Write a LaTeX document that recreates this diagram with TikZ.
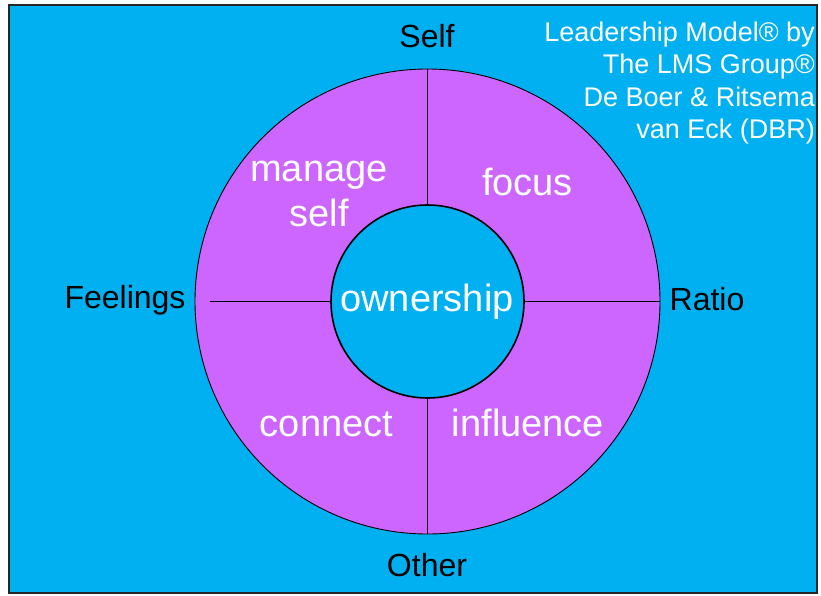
\documentclass[tikz,border=0pt]{standalone}
\usepackage{fontspec}
\setmainfont{Liberation Sans}
\definecolor{bgblue}{HTML}{00B0F0}
\definecolor{ringpurple}{HTML}{CC66FF}
\begin{document}
\begin{tikzpicture}[x=1pt,y=-1pt,
  bigtxt/.style={text=white,font=\fontsize{38}{45}\selectfont,align=center,anchor=base,inner sep=0pt},
  axistxt/.style={text=black,font=\fontsize{32}{38}\selectfont,anchor=base,inner sep=0pt},
  notetxt/.style={text=white,font=\fontsize{27}{32.2}\selectfont,anchor=base east,inner sep=0pt},
  divider/.style={draw=black,line width=0.9pt}]
\useasboundingbox (0,0) rectangle (821,596);
\draw[fill=bgblue,draw=black!85,line width=2pt] (9,5) rectangle (817,593);
\node[circle,draw=black,line width=0.9pt,fill=ringpurple,minimum size=465pt,inner sep=0pt] (outer) at (427.5,301.5) {};
\node[circle,draw=black,line width=1.6pt,fill=bgblue,minimum size=193pt,inner sep=0pt] (inner) at (427.5,301.5) {};
\coordinate (leftend) at (210,301.5);
\draw[divider] (outer.north) -- (inner.north);
\draw[divider] (inner.south) -- (outer.south);
\draw[divider] (leftend) -- (inner.west);
\draw[divider] (inner.east) -- (outer.east);
\node[bigtxt] (own) at (427,311.5) {ownership};
\node[bigtxt] (manage) at (319,181.5) {manage};
\node[bigtxt] (mself) at (319,226.5) {self};
\node[bigtxt] (focus) at (527.5,195) {focus};
\node[bigtxt] (connect) at (326.5,436) {connect};
\node[bigtxt] (influence) at (528,436) {influence};
\node[axistxt] (self) at (427,47.5) {Self};
\node[axistxt] (feel) at (125,308) {Feelings};
\node[axistxt] (ratio) at (707,310.5) {Ratio};
\node[axistxt] (other) at (427,576.5) {Other};
\node[notetxt] (note1) at (815,41.7) {Leadership Model® by};
\node[notetxt] (note2) at (815,74) {The LMS Group®};
\node[notetxt] (note3) at (815,106.5) {De Boer \& Ritsema};
\node[notetxt] (note4) at (815,138.5) {van Eck (DBR)};
\end{tikzpicture}
\end{document}
